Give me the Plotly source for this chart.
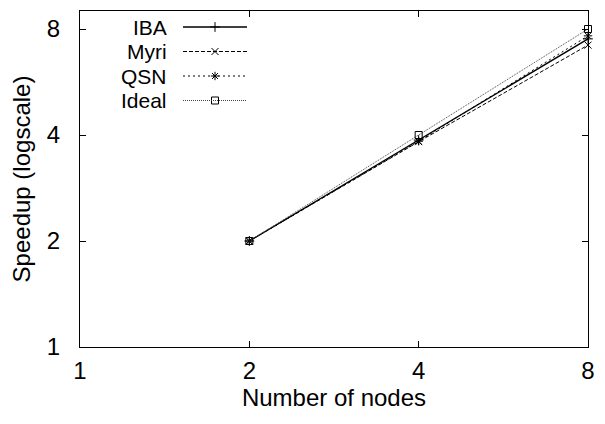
import plotly.graph_objects as go
import math

nodes = [2, 4, 8]
iba = [2.0, 3.87, 7.5]
myri = [2.0, 3.83, 7.2]
qsn = [2.0, 3.84, 7.65]
ideal = [2.0, 4.0, 8.0]
tick_vals = [1, 2, 4, 8]
tick_text = ["1", "2", "4", "8"]

series = [
    ("IBA", iba, "solid", "cross-thin-open", 1.3, "black"),
    ("Myri", myri, "4px,2px", "x-thin-open", 1.0, "black"),
    ("QSN", qsn, "2px,3px", "asterisk-open", 1.0, "black"),
    ("Ideal", ideal, "1px,1px", "square-open", 1.0, "#444444"),
]

FONT = "Liberation Sans, Arial, sans-serif"
FS = 24
LEG_FS = 21

# page geometry (body has an 8px margin)
OFF = 8
W, H = 597, 416
PL, PT, PR, PB = 80, 11, 588, 347  # plot area in page pixels
L, T = PL - OFF, PT - OFF
R = OFF + W - PR
B = OFF + H - PB
pw, ph = PR - PL, PB - PT

fig = go.Figure()
for name, ys, dash, sym, lw, col in series:
    fig.add_trace(go.Scatter(
        x=nodes, y=ys, mode="lines+markers", name=name,
        line=dict(color=col, width=lw, dash=dash),
        marker=dict(symbol=sym, size=7, color="black", line=dict(color="black", width=1)),
        showlegend=False, cliponaxis=False,
    ))

# gnuplot-style key: text on the left, sample on the right
def px(x):
    return (x - PL) / pw

def py(y):
    return (PB - y) / ph

leg_rows = [27, 51.5, 76, 100.5]
annotations = []
shapes = []
mk_x, mk_y, mk_s = [], [], []
for (name, ys, dash, sym, lw, col), yy in zip(series, leg_rows):
    annotations.append(dict(x=px(169), y=py(yy), xref="paper", yref="paper",
                            text=name, showarrow=False, xanchor="right", yanchor="middle",
                            font=dict(family=FONT, size=LEG_FS, color="black")))
    shapes.append(dict(type="line", xref="paper", yref="paper",
                       x0=px(183), x1=px(247), y0=py(yy), y1=py(yy),
                       line=dict(color=col, width=lw, dash=dash)))
    mk_x.append(px(215))
    mk_y.append(py(yy))
    mk_s.append(sym)

fig.add_trace(go.Scatter(x=mk_x, y=mk_y, mode="markers", xaxis="x2", yaxis="y2",
                         marker=dict(symbol=mk_s, size=7, color="black", line=dict(color="black", width=1)),
                         showlegend=False, cliponaxis=False, hoverinfo="skip"))

axis_common = dict(
    showgrid=False, zeroline=False, showline=True, linecolor="black", linewidth=1,
    mirror="ticks", ticks="inside", ticklen=6, tickcolor="black",
    tickfont=dict(family=FONT, size=FS, color="black"),
)

fig.update_layout(
    width=W, height=H,
    margin=dict(l=L, r=R, t=T, b=B, autoexpand=False),
    plot_bgcolor="white", paper_bgcolor="white",
    xaxis=dict(type="log", range=[0, math.log10(8)], tickvals=tick_vals, ticktext=tick_text,
               title=dict(text="Number of nodes", font=dict(family=FONT, size=FS, color="black"), standoff=5),
               ticklabelstandoff=2, **axis_common),
    yaxis=dict(type="log", range=[0, math.log10(9)], tickvals=tick_vals, ticktext=tick_text,
               title=dict(text="Speedup (logscale)", font=dict(family=FONT, size=FS, color="black"), standoff=12),
               ticklabelstandoff=14, **axis_common),
    xaxis2=dict(range=[0, 1], overlaying="x", visible=False, fixedrange=True),
    yaxis2=dict(range=[0, 1], overlaying="y", visible=False, fixedrange=True),
    annotations=annotations, shapes=shapes,
    showlegend=False,
)

fig.write_html("out.html")
